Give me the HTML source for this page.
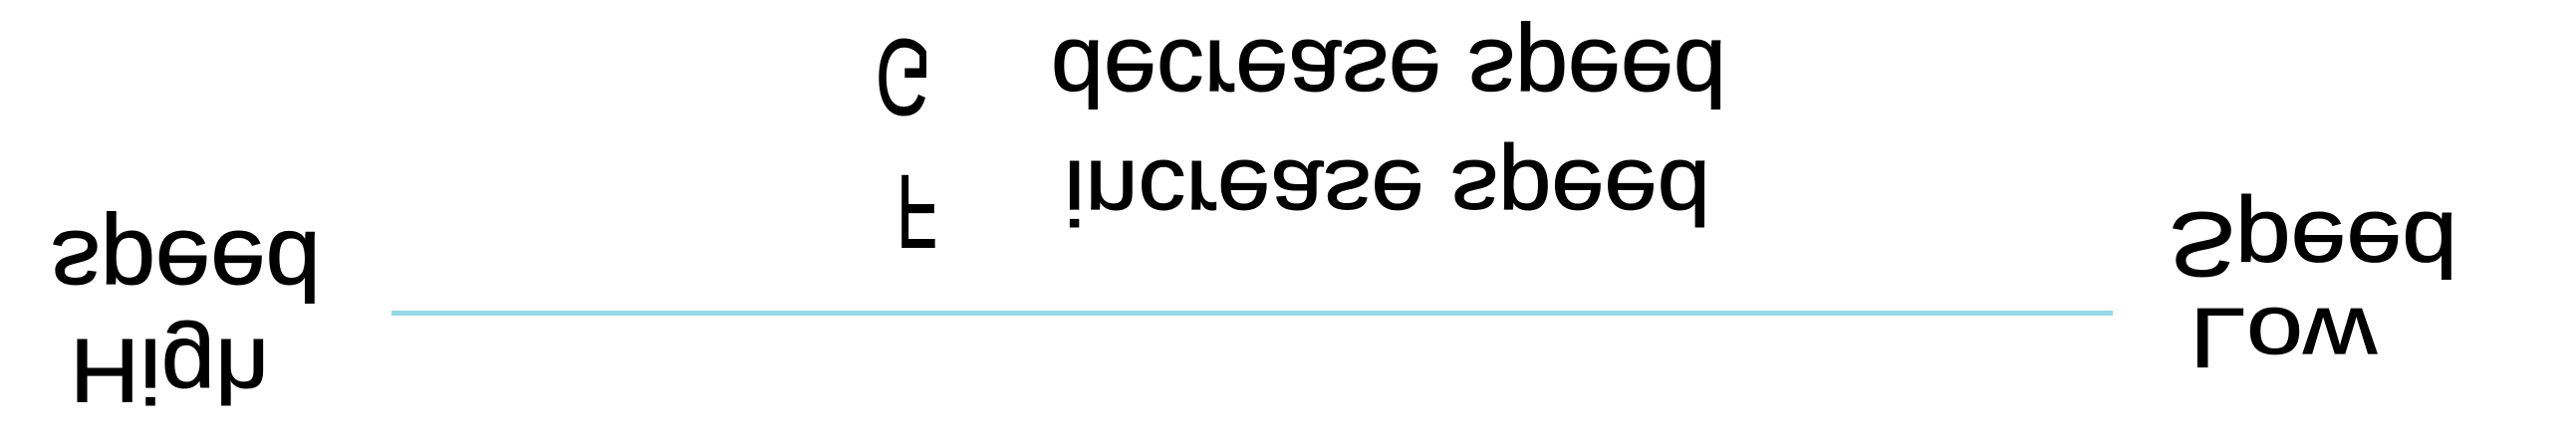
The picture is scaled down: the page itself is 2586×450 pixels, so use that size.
<!DOCTYPE html>
<html><head><meta charset="utf-8"><style>
html,body{margin:0;padding:0;background:#fff;}
svg{display:block;}
text{font-family:"Liberation Sans",sans-serif;fill:#000;stroke:#000;stroke-width:1px;}
</style></head><body>
<svg width="2586" height="450" viewBox="0 0 2586 450" xmlns="http://www.w3.org/2000/svg">
<rect x="393" y="312" width="1728" height="5" fill="#96d8e6"/>
<g transform="translate(51,233) scale(1,-1)"><text x="0" y="0" font-size="98" textLength="271" lengthAdjust="spacingAndGlyphs">speed</text></g>
<g transform="translate(70,341) scale(1,-0.95)"><text x="0" y="0" font-size="96" textLength="200" lengthAdjust="spacingAndGlyphs">High</text></g>
<g transform="translate(879,40) scale(1,-1.03)"><text x="0" y="0" font-size="105" textLength="56" lengthAdjust="spacingAndGlyphs">G</text></g>
<g transform="translate(1055,41) scale(1,-1)"><text x="0" y="0" font-size="95" textLength="678" lengthAdjust="spacingAndGlyphs">decrease speed</text></g>
<g transform="translate(900,176) scale(1,-1)"><text x="0" y="0" font-size="105" textLength="41" lengthAdjust="spacingAndGlyphs">F</text></g>
<g transform="translate(1068,162) scale(1,-0.95)"><text x="0" y="0" font-size="96" textLength="649" lengthAdjust="spacingAndGlyphs">increase speed</text></g>
<g transform="translate(2177,214) scale(1,-0.92)"><text x="0" y="0" font-size="100" textLength="290" lengthAdjust="spacingAndGlyphs">Speed</text></g>
<g transform="translate(2198,310) scale(1,-0.85)"><text x="0" y="0" font-size="100" textLength="188" lengthAdjust="spacingAndGlyphs">Low</text></g>
</svg>
</body></html>
